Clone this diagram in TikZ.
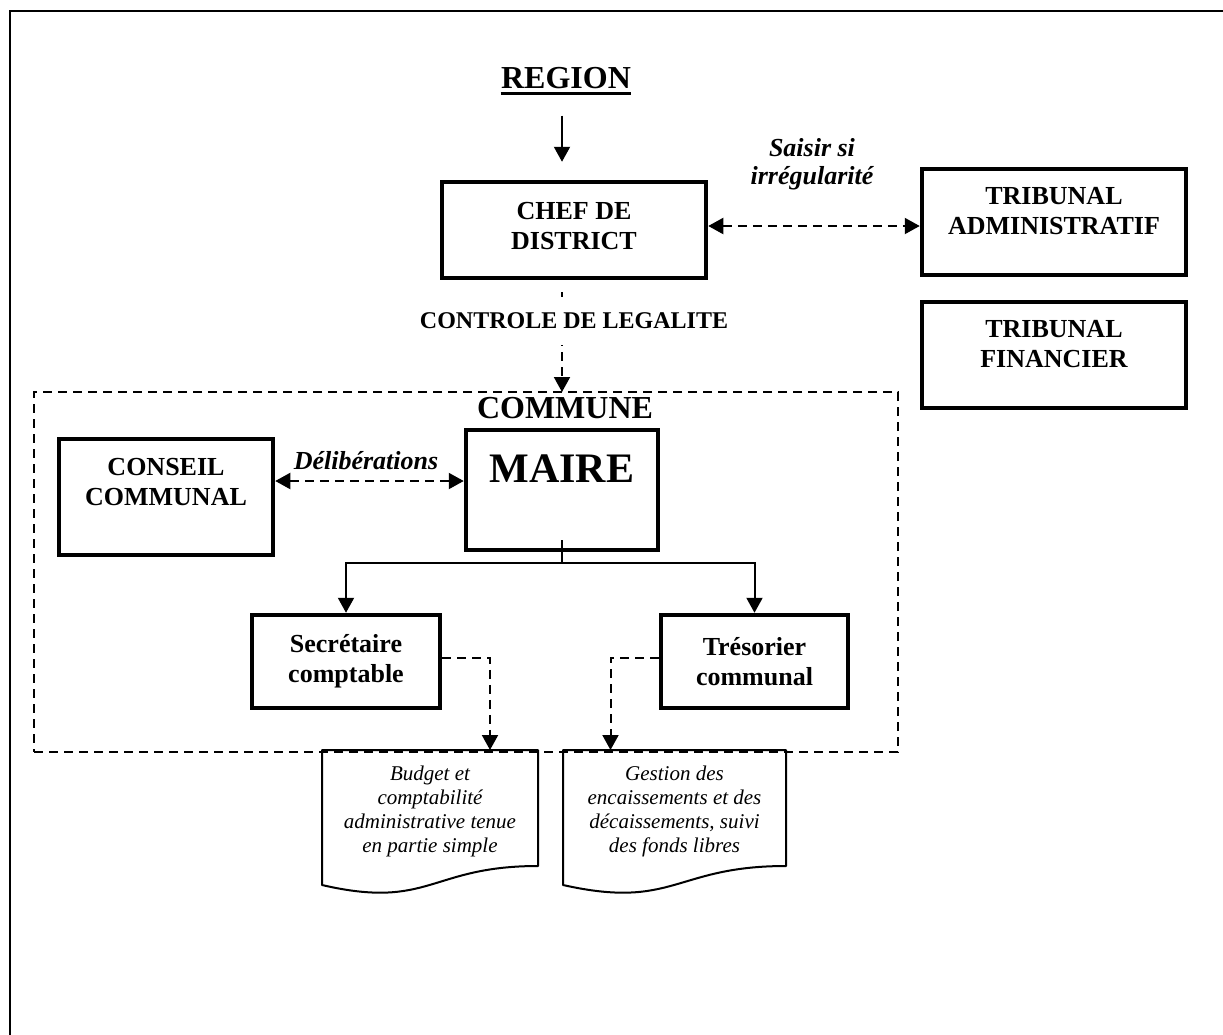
\documentclass[tikz,border=0pt]{standalone}
\usepackage{fontspec}
\setmainfont{Liberation Serif}
\usepackage{tikz}
\usetikzlibrary{arrows.meta,calc,positioning}

\begin{document}
\begin{tikzpicture}[x=0.5pt,y=-0.5pt,
        box/.style={draw, line width=2.25pt, inner sep=0pt, align=center,
            font=\bfseries\fontsize{13}{15}\selectfont},
        doc/.style={inner sep=0pt, outer sep=0pt, align=center,
            font=\itshape\fontsize{10.5}{12}\selectfont},
        lbl/.style={inner sep=0pt, align=center,
            font=\bfseries\itshape\fontsize{13}{14}\selectfont},
        arr/.style={-{Triangle[length=7.5pt,width=8pt]}, line width=1pt},
        darr/.style={arr, dash pattern=on 4.5pt off 3pt},
        dblarr/.style={{Triangle[length=7.5pt,width=8pt]}-{Triangle[length=7.5pt,width=8pt]},
            line width=1pt, dash pattern=on 4.5pt off 3pt},
        docline/.style={line width=1pt, line join=round}]
        \useasboundingbox (0,0) rectangle (1223,1035);
        \draw[line width=1pt] (9.5,1035) -- (9.5,11) -- (1223,11);

        % region, district, tribunaux
        \node[inner sep=0pt, text depth=0pt, font=\bfseries\fontsize{16}{19}\selectfont] (region) at (566,77.5) {REGION};
        \draw[line width=1.3pt] ([yshift=-2.5pt]region.south west) -- ([yshift=-2.5pt]region.south east);
        \node[box, minimum width=132pt, minimum height=48pt] (chef) at (574,230) {CHEF DE\\DISTRICT\\[-11pt]~};
        \node[box, minimum width=132pt, minimum height=53pt] (tribA) at (1054,222) {TRIBUNAL\\ADMINISTRATIF\\[-4pt]~};
        \node[box, minimum width=132pt, minimum height=53pt] (tribF) at (1054,355) {TRIBUNAL\\FINANCIER\\[-4pt]~};
        \node[lbl] (saisir) at (812,164) {Saisir si\\irrégularité};

        % commune
        \node[draw, line width=1pt, dash pattern=on 4.5pt off 3pt, inner sep=0pt, outer sep=0pt,
            minimum width=432pt, minimum height=180pt] (commune) at (466,572) {};
        \node[inner sep=0pt, font=\bfseries\fontsize{16}{19}\selectfont] (communetxt) at (565,408.5) {COMMUNE};
        \node[box, minimum width=96pt, minimum height=60pt, font=\bfseries\fontsize{21}{21}\selectfont] (maire) at (562,490) {MAIRE\\~};
        \node[box, minimum width=107pt, minimum height=58pt] (conseil) at (166,497) {CONSEIL\\COMMUNAL\\~};
        \node[lbl] (delib) at (366,461) {Délibérations};
        \node[box, minimum width=94pt, minimum height=46.5pt] (sec) at (346,661.5) {Secrétaire\\comptable};
        \node[box, minimum width=93.5pt, minimum height=46.5pt] (tres) at (754.5,661.5) {Trésorier\\communal};

        % documents
        \node[doc, minimum width=108pt, minimum height=61pt] (budget) at (430,811) {Budget et\\comptabilité\\administrative tenue\\en partie simple};
        \node[doc, minimum width=111.5pt, minimum height=61pt] (gestion) at (674.5,811) {Gestion des\\encaissements et des\\décaissements, suivi\\des fonds libres};
        \draw[docline] (budget.north west) -- (budget.north east) -- ++(0,116)
            .. controls ($(budget.north)+(0,116)$) and ($(budget.north)+(0,160)$) .. ($(budget.north west)+(0,135)$) -- cycle;
        \draw[docline] (gestion.north west) -- (gestion.north east) -- ++(0,116)
            .. controls ($(gestion.north)+(0,116)$) and ($(gestion.north)+(0,160)$) .. ($(gestion.north west)+(0,135)$) -- cycle;

        % connectors
        \draw[arr, shorten <=13.5pt, shorten >=9pt] (region.south -| maire.north) -- (chef.north -| maire.north);
        \draw[dblarr] ([yshift=2pt]chef.east) -- ([yshift=2pt]chef.east -| tribA.west);
        \draw[darr, shorten <=6pt] (chef.south -| maire.north) -- (commune.north -| maire.north);
        \node[fill=white, inner xsep=2pt, inner ysep=8pt, font=\bfseries\fontsize{12}{15}\selectfont] (ctrl) at (574,321) {CONTROLE DE LEGALITE};
        \draw[dblarr] ([yshift=4.5pt]maire.west -| conseil.east) -- ([yshift=4.5pt]maire.west);
        \coordinate (fork) at ([yshift=-5.5pt]maire.south);
        \draw[line width=1pt] ([yshift=6pt]maire.south) -- (fork);
        \draw[arr] (fork) -| (sec.north);
        \draw[arr] (fork) -| (tres.north);
        \draw[darr] ([yshift=2pt]sec.east) -| ([xshift=30pt]budget.north);
        \draw[darr] ([yshift=2pt]tres.west) -| ([xshift=-32pt]gestion.north);
    \end{tikzpicture}
\end{document}
